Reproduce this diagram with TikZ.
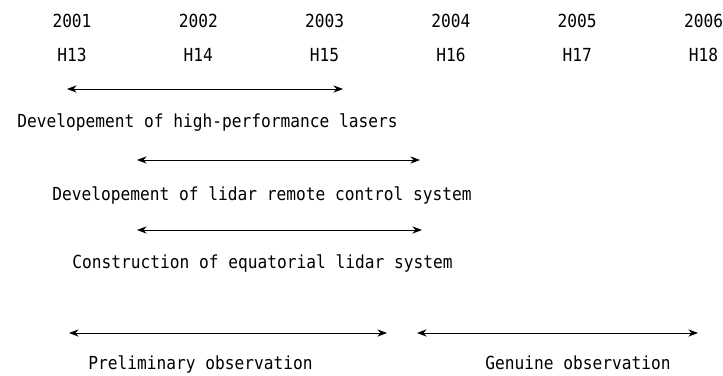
\documentclass[tikz,border=0pt]{standalone}
\usepackage{fontspec}
\newfontfamily\gothic[FakeStretch=0.9]{DejaVu Sans Mono}
\usetikzlibrary{arrows.meta}

\begin{document}
\begin{tikzpicture}[every node/.style={font=\gothic\fontsize{12.8}{14}\selectfont, inner sep=0pt},
	span/.style={{Stealth[length=2.4mm,width=1.8mm]}-{Stealth[length=2.4mm,width=1.8mm]}, line width=0.7pt}]
		\useasboundingbox (0, 0) rectangle (18.075, 9.375);
		
		% TOP: YEARS (fiscal years and Heisei)
		\def\yrstart{1.8}
		\def\yrgap{3.1575}
		\foreach \yr/\hs [count=\i from 0] in {2001/H13, 2002/H14, 2003/H15, 2004/H16, 2005/H17, 2006/H18} {
			\node[anchor=base] (y\yr) at (\yrstart+\i*\yrgap, 8.675) {\yr};
			\node[anchor=base] (h\yr) at (\yrstart+\i*\yrgap, 7.825) {\hs};
		}
		
		% Lasers
		\coordinate (lasA) at (1.675, 7.15);
		\coordinate (lasB) at (8.575, 7.15);
		\draw[span] (lasA) -- (lasB);
		\node[anchor=base west] (lasers) at (0.425, 6.175) {Developement of high-performance lasers};
		
		% Remote control
		\coordinate (remA) at (3.425, 5.375);
		\coordinate (remB) at (10.5, 5.375);
		\draw[span] (remA) -- (remB);
		\node[anchor=base west] (remote) at (1.3, 4.375) {Developement of lidar remote control system};
		
		% Equatorial lidar
		\coordinate (equA) at (3.425, 3.625);
		\coordinate (equB) at (10.55, 3.625);
		\draw[span] (equA) -- (equB);
		\node[anchor=base west] (equator) at (1.8, 2.675) {Construction of equatorial lidar system};
		
		% BOTTOM: OBSERVATIONS
		\coordinate (preA) at (1.725, 1.05);
		\coordinate (preB) at (9.675, 1.05);
		\draw[span] (preA) -- (preB);
		\node[anchor=base west] (prelim) at (2.2, 0.14) {Preliminary observation};
		
		\coordinate (genA) at (10.425, 1.05);
		\coordinate (genB) at (17.45, 1.05);
		\draw[span] (genA) -- (genB);
		\node[anchor=base west] (genuine) at (12.125, 0.14) {Genuine observation};
		
	\end{tikzpicture}
\end{document}
